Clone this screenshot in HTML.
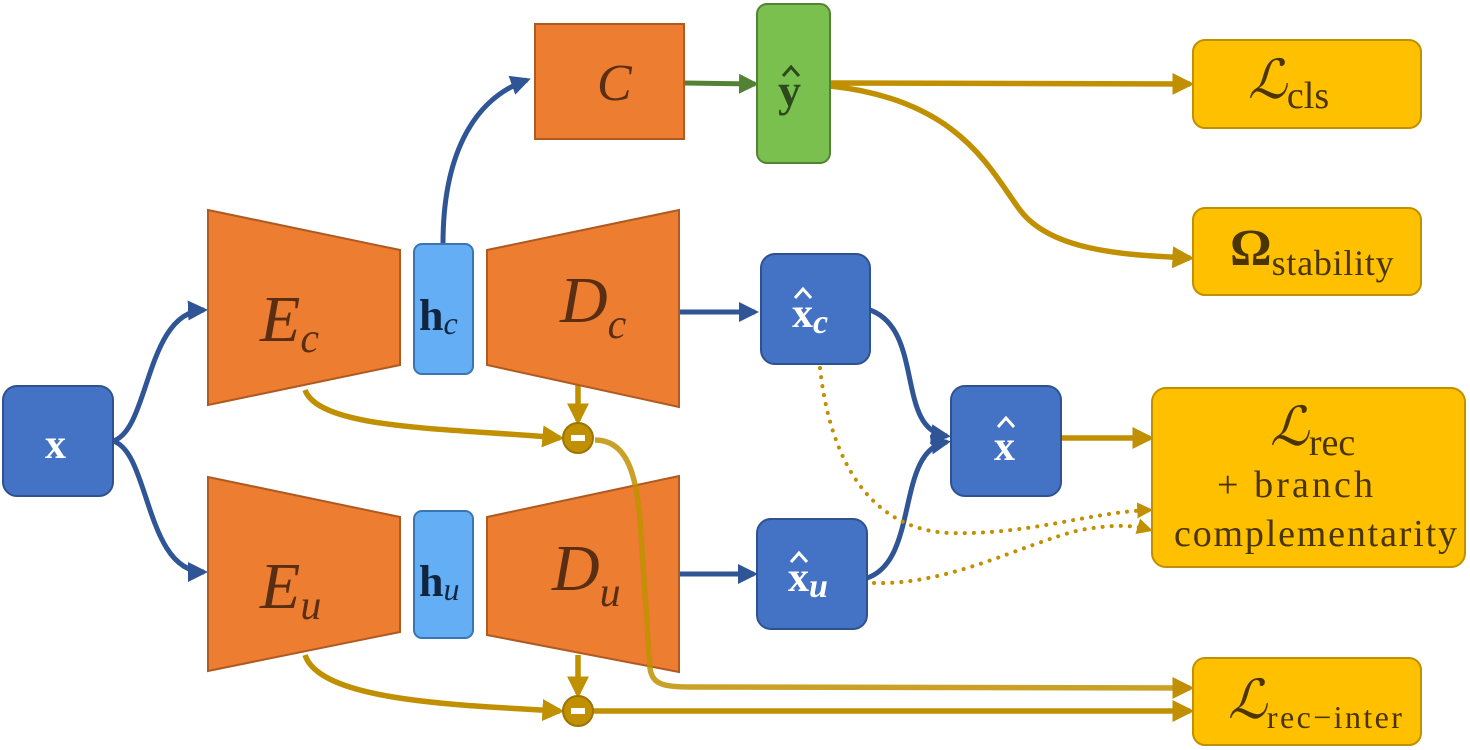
<!DOCTYPE html>
<html><head><meta charset="utf-8"><style>
html,body{margin:0;padding:0;background:#fff;}
svg{display:block;}
text{font-family:"Liberation Serif",serif;}
</style></head><body>
<svg width="1470" height="750" viewBox="0 0 1470 750" xmlns="http://www.w3.org/2000/svg">
<defs>
<marker id="ag" viewBox="0 0 10 10" refX="8" refY="5" markerWidth="4" markerHeight="4" orient="auto" markerUnits="strokeWidth"><path d="M0,0 L10,5 L0,10 z" fill="#c09000"/></marker>
<marker id="agd" viewBox="0 0 10 10" refX="8" refY="5" markerWidth="16" markerHeight="16" orient="auto" markerUnits="userSpaceOnUse"><path d="M0,0 L10,5 L0,10 z" fill="#c09000"/></marker>
<marker id="ab" viewBox="0 0 10 10" refX="8" refY="5" markerWidth="4" markerHeight="4" orient="auto" markerUnits="strokeWidth"><path d="M0,0 L10,5 L0,10 z" fill="#2f5597"/></marker>
<marker id="agr" viewBox="0 0 10 10" refX="8" refY="5" markerWidth="4" markerHeight="4" orient="auto" markerUnits="strokeWidth"><path d="M0,0 L10,5 L0,10 z" fill="#548235"/></marker>
</defs>

<g fill="none" stroke="#2f5597" stroke-width="5">
<path d="M113,441 C150,430 145,312 204,310" marker-end="url(#ab)"/>
<path d="M113,441 C150,452 145,572 204,572" marker-end="url(#ab)"/>
<path d="M443,244 C443,160 470,100 527,80" marker-end="url(#ab)"/>
<path d="M679,312 L755,312" marker-end="url(#ab)"/>
<path d="M679,574 L754,574" marker-end="url(#ab)"/>
<path d="M870,310 C925,330 895,430 947,436" marker-end="url(#ab)"/>
<path d="M867,578 C920,560 895,450 947,442" marker-end="url(#ab)"/>
</g>
<path d="M684,83 L755,84" stroke="#548235" stroke-width="5" fill="none" marker-end="url(#agr)"/>

<g fill="none" stroke="#c09000" stroke-width="5.5">
<path d="M830,83 L1190,84" marker-end="url(#ag)"/>
<path d="M830,86 C960,100 990,170 1020,210 S1120,255 1190,258" marker-end="url(#ag)"/>
<path d="M1061,438 L1150,438" marker-end="url(#ag)"/>
<path d="M305,390 C320,430 450,428 560,438" marker-end="url(#ag)"/>
<path d="M578,385 L578,421" marker-end="url(#ag)"/>
<path d="M305,655 C320,700 450,705 560,711" marker-end="url(#ag)"/>
<path d="M578,655 L578,694" marker-end="url(#ag)"/>
<path d="M593,711 L1190,711" marker-end="url(#ag)"/>
</g>
<g fill="none" stroke="#c09000" stroke-width="4" stroke-dasharray="0.1 9" stroke-linecap="round">
<path d="M820,368 C830,460 870,530 950,533 C1030,535 1090,512 1150,510" marker-end="url(#agd)"/>
<path d="M874,583 C950,585 1020,545 1080,530 C1110,525 1130,524 1150,530" marker-end="url(#agd)"/>
</g>

<g fill="#ed7d31" stroke="#ae5a21" stroke-width="2">
<polygon points="208,210 400,250 400,365 208,405"/>
<polygon points="487,250 679,210 679,407 487,365"/>
<polygon points="208,477 400,517 400,632 208,671"/>
<polygon points="487,517 679,476 679,672 487,635"/>
<rect x="535" y="24" width="149" height="115"/>
</g>
<path d="M595,440 C625,440 636,470 640,520 L650,668 C652,685 665,687 690,687 L1190,688" fill="none" stroke="#c09000" stroke-width="5.5" stroke-opacity="0.85" marker-end="url(#ag)"/>

<g fill="#c09000" stroke="#9c7400" stroke-width="2">
<circle cx="578" cy="438" r="15"/><circle cx="578" cy="711" r="15"/>
</g>
<rect x="571" y="435" width="14" height="6" fill="#fff"/>
<rect x="571" y="708" width="14" height="6" fill="#fff"/>

<g fill="#63aef5" stroke="#3a75b0" stroke-width="2">
<rect x="414" y="244" width="59" height="130" rx="8"/>
<rect x="414" y="511" width="59" height="127" rx="8"/>
</g>
<rect x="757" y="4" width="73" height="159" rx="10" fill="#7ac04e" stroke="#548235" stroke-width="2"/>
<g fill="#4472c4" stroke="#2f528f" stroke-width="2">
<rect x="3" y="386" width="110" height="110" rx="14"/>
<rect x="761" y="254" width="109" height="110" rx="14"/>
<rect x="951" y="386" width="110" height="110" rx="14"/>
<rect x="757" y="519" width="110" height="110" rx="14"/>
</g>
<g fill="#ffc000" stroke="#bf9000" stroke-width="2">
<rect x="1193" y="40" width="228" height="88" rx="12"/>
<rect x="1193" y="208" width="228" height="87" rx="12"/>
<rect x="1152" y="388" width="313" height="179" rx="14"/>
<rect x="1193" y="658" width="228" height="87" rx="12"/>
</g>

<g fill="#5a2e12" font-style="italic">
<text x="260" y="341" font-size="66">E<tspan font-size="42" dy="11">c</tspan></text>
<text x="260" y="608" font-size="66">E<tspan font-size="42" dy="11">u</tspan></text>
<text x="560" y="322" font-size="66">D<tspan font-size="42" dy="16">c</tspan></text>
<text x="552" y="590" font-size="66">D<tspan font-size="42" dy="16">u</tspan></text>
<text x="597" y="100" font-size="52">C</text>
</g>
<g fill="#10253f">
<text x="419" y="330" font-size="44" font-weight="bold">h<tspan font-style="italic" font-weight="normal" font-size="32" dy="4">c</tspan></text>
<text x="419" y="596" font-size="44" font-weight="bold">h<tspan font-style="italic" font-weight="normal" font-size="32" dy="4">u</tspan></text>
</g>
<g fill="none" stroke-width="3" stroke-linejoin="miter">
<path d="M783,76 L791,67 L799,76" stroke="#2d4a1a"/>
<path d="M795,298 L803,289 L811,298" stroke="#fff"/>
<path d="M998,427 L1006,418 L1014,427" stroke="#fff"/>
<path d="M791,562 L799,553 L807,562" stroke="#fff"/>
</g>
<text x="778" y="106" font-size="46" font-weight="bold" fill="#2d4a1a">y</text>
<g fill="#fff" font-weight="bold">
<text x="45" y="458" font-size="42">x</text>
<text x="792" y="327" font-size="42">x<tspan font-style="italic" font-size="34" dy="6">c</tspan></text>
<text x="994" y="460" font-size="42">x</text>
<text x="788" y="591" font-size="42">x<tspan font-style="italic" font-size="34" dy="6">u</tspan></text>
</g>
<g fill="#4a3500">
<text x="1248" y="98" font-size="54" font-style="italic">ℒ<tspan font-style="normal" font-size="38" dy="10">cls</tspan></text>
<text x="1230" y="265" font-size="52" font-weight="bold">Ω<tspan font-weight="normal" font-size="36" dy="10" textLength="122">stability</tspan></text>
<text x="1270" y="445" font-size="54" font-style="italic">ℒ<tspan font-style="normal" font-size="38" dy="10">rec</tspan></text>
<text x="1217" y="497" font-size="38" textLength="156">+ branch</text>
<text x="1174" y="546" font-size="38" textLength="283">complementarity</text>
<text x="1228" y="718" font-size="54" font-style="italic">ℒ<tspan font-style="normal" font-size="32" dy="10" textLength="135">rec−inter</tspan></text>
</g>
</svg>
</body></html>
